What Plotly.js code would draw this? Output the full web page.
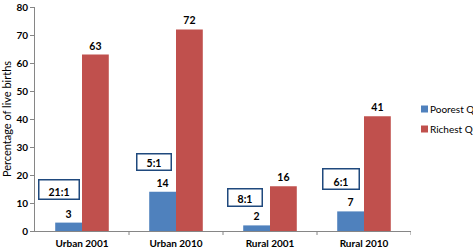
<!DOCTYPE html>
<html><head><meta charset="utf-8">
<script src="https://cdn.plot.ly/plotly-3.0.1.min.js"></script>
<style>html,body{margin:0;padding:0;background:#fff}</style>
</head><body>
<div id="chart" style="width:473px;height:249px"></div>
<script>
const categories = ["Urban 2001", "Urban 2010", "Rural 2001", "Rural 2010"];
const seriesNames = ["Poorest Q", "Richest Q"];
const poorest = [3, 14, 2, 7];
const richest = [63, 72, 16, 41];
const ratios = ["21:1", "5:1", "8:1", "6:1"];
const ratioY = [14.8, 24.8, 12.0, 18.5];
const colors = ["#4F81BD", "#C0504D"];

const font = "Lato, 'Liberation Sans', sans-serif";
const W = 473, H = 249, ML = 35, MR = 62, MT = 7, MB = 18;
const PW = W - ML - MR, PH = H - MT - MB;
const traces = [poorest, richest].map((vals, k) => ({
  type: "bar", name: seriesNames[k], x: [0,1,2,3], y: vals, marker: {color: colors[k]},
  text: vals.map(String), textposition: "outside", cliponaxis: false, showlegend: false,
  textfont: {family: font, size: 10.5, color: "#000", weight: "bold"}
}));
const offsets = [-0.25, -0.23, -0.27, -0.25];
const widths = [41, 35, 35, 37];
const heights = [20, 17, 18, 21];
const annotations = ratios.map((r, i) => ({
  x: i + offsets[i], y: ratioY[i], xref: "x", yref: "y", text: "<b>" + r + "</b>",
  showarrow: false, bordercolor: "#1F497D", borderwidth: 1.5, bgcolor: "#fff",
  width: widths[i] - 4, height: heights[i] - 4, valign: "bottom", borderpad: 1,
  font: {family: font, size: 10.5, color: "#000"}
}));
// manual legend (paper coords)
const px = v => (v - ML) / PW;
const py = v => (H - MB - v) / PH;
const legY = [109, 129];
const shapes = [0.5, 1.5, 2.5, 3.5].map(v => ({type: "line", xref: "x", yref: "paper", x0: v, x1: v,
    y0: 0, y1: -4 / PH, line: {color: "#868686", width: 1}}));
seriesNames.forEach((n, k) => {
  shapes.push({type: "rect", xref: "paper", yref: "paper", x0: px(421), x1: px(428),
    y0: py(legY[k] + 3.5), y1: py(legY[k] - 3.5), fillcolor: colors[k], line: {width: 0}});
  annotations.push({xref: "paper", yref: "paper", x: px(428), y: py(legY[k]), xanchor: "left",
    yanchor: "middle", text: n, showarrow: false, font: {family: font, size: 10, color: "#000"}});
});
const layout = {
  width: W, height: H,
  margin: {l: ML, r: MR, t: MT, b: MB},
  paper_bgcolor: "#fff", plot_bgcolor: "#fff",
  barmode: "group", bargap: 0.43, bargroupgap: 0,
  font: {family: font, size: 10, color: "#000"},
  showlegend: false,
  xaxis: {range: [-0.5, 3.5], tickvals: [0,1,2,3], ticktext: categories.map(c => "<b>" + c + "</b>"),
    showline: true, linecolor: "#868686", linewidth: 1, ticks: "", showgrid: false, zeroline: false,
    tickfont: {size: 10}, automargin: false, ticklabelstandoff: 3},
  yaxis: {range: [0, 80], tickvals: [0,10,20,30,40,50,60,70,80], showline: true, linecolor: "#868686", linewidth: 1,
    ticks: "outside", ticklen: 4, tickcolor: "#868686", showgrid: false, zeroline: false,
    tickfont: {size: 10, weight: "bold"}, ticklabeloverflow: "allow", automargin: false,
    title: {text: "Percentage of live births", font: {size: 11}}},
  annotations: annotations,
  shapes: shapes
};
Plotly.newPlot("chart", traces, layout, {displayModeBar: false, staticPlot: true});
</script>
</body></html>
